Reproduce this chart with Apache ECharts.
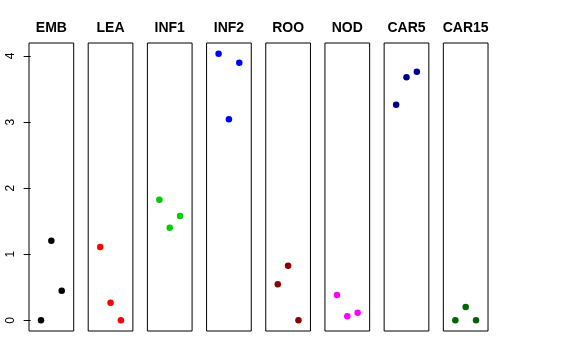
<!DOCTYPE html>
<html>
<head>
<meta charset="utf-8">
<script src="https://cdn.jsdelivr.net/npm/echarts@6/dist/echarts.min.js"></script>
<style>html,body{margin:0;padding:0;background:#fff}#c{width:576px;height:360px}</style>
</head>
<body>
<div id="c"></div>
<script>
var categories = ['EMB', 'LEA', 'INF1', 'INF2', 'ROO', 'NOD', 'CAR5', 'CAR15'];
var xPositions = [1, 2, 3];
var EMB = [0, 1.205, 0.448];
var LEA = [1.109, 0.267, 0];
var INF1 = [1.825, 1.40, 1.578];
var INF2 = [4.035, 3.042, 3.898];
var ROO = [0.545, 0.826, 0];
var NOD = [0.383, 0.06, 0.116];
var CAR5 = [3.263, 3.677, 3.763];
var CAR15 = [0, 0.201, 0];
var yTicks = [0, 1, 2, 3, 4];

var seriesValues = [EMB, LEA, INF1, INF2, ROO, NOD, CAR5, CAR15];
var colors = ['#000000', '#FF0000', '#00CD00', '#0000FF', '#8B0000', '#FF00FF', '#00008B', '#006400'];

var left0 = 29, step = 59.19, pw = 44.7, gTop = 43, ph = 288;

var grids = [], xAxes = [], yAxes = [], series = [], titles = [];
categories.forEach(function (name, i) {
  var l = left0 + i * step;
  grids.push({left: l, top: gTop, width: pw, height: ph, show: true, borderColor: '#000', borderWidth: 1, backgroundColor: 'transparent', containLabel: false});
  xAxes.push({type: 'value', gridIndex: i, min: -0.16, max: 4.16, show: false});
  yAxes.push({
    type: 'value', gridIndex: i, min: -0.162, max: 4.197,
    show: i === 0,
    splitLine: {show: false},
    axisLine: {show: false},
    axisTick: {show: true, length: 7, lineStyle: {color: '#000', width: 1}, customValues: yTicks},
    axisLabel: {show: true, rotate: 90, margin: 12, color: '#000', fontSize: 12, fontFamily: 'Liberation Sans, Arial, sans-serif', customValues: yTicks}
  });
  series.push({
    type: 'scatter', xAxisIndex: i, yAxisIndex: i,
    symbol: 'circle', symbolSize: 6.5,
    itemStyle: {color: colors[i], opacity: 1},
    data: seriesValues[i].map(function (v, k) { return [xPositions[k], v]; }),
    silent: true, animation: false
  });
  titles.push({
    text: name, left: l + pw / 2, top: 21, textAlign: 'center', padding: 0,
    textStyle: {fontSize: 14, fontWeight: 'bold', color: '#000', fontFamily: 'Liberation Sans, Arial, sans-serif'}
  });
});

var chart = echarts.init(document.getElementById('c'), null, {renderer: 'canvas'});
chart.setOption({
  animation: false,
  backgroundColor: '#fff',
  title: titles,
  grid: grids,
  xAxis: xAxes,
  yAxis: yAxes,
  series: series
});
</script>
</body>
</html>
